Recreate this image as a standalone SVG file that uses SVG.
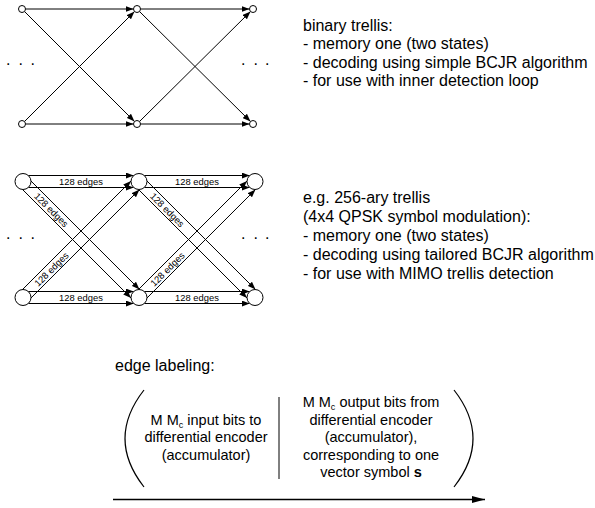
<svg xmlns="http://www.w3.org/2000/svg" width="595" height="508" viewBox="0 0 595 508">
<defs>
<marker id="ah" viewBox="0 0 8 6" refX="8" refY="3" markerWidth="8" markerHeight="6" markerUnits="userSpaceOnUse" orient="auto"><path d="M0,0 L8,3 L0,6 z" fill="#000"/></marker>
<marker id="ahb" viewBox="0 0 13 7" refX="13" refY="3.5" markerWidth="13" markerHeight="7" markerUnits="userSpaceOnUse" orient="auto"><path d="M0,0 L13,3.5 L0,7 z" fill="#000"/></marker>
<style>
text{font-family:"Liberation Sans",Arial,sans-serif;fill:#000}
.n{fill:#fff;stroke:#000;stroke-width:1}
.e{stroke:#000;stroke-width:1;fill:none;marker-end:url(#ah)}
.lab{font-size:9.4px;text-anchor:middle}
.t{font-size:16px}
.d{font-size:16px}
.c{font-size:14.5px;text-anchor:middle}
.sub{font-size:9px}
</style>
</defs>
<rect width="595" height="508" fill="#fff"/>

<!-- binary trellis connectors -->
<g id="connectors-binary">
<line class="e" x1="25.5" y1="9" x2="133.5" y2="9"/>
<line class="e" x1="24.5" y1="11.5" x2="134.5" y2="121.5"/>
<line class="e" x1="24.5" y1="121.5" x2="134.5" y2="11.5"/>
<line class="e" x1="25.5" y1="124" x2="133.5" y2="124"/>
<line class="e" x1="140.5" y1="9" x2="249.5" y2="9"/>
<line class="e" x1="139.5" y1="11.5" x2="250.5" y2="121.5"/>
<line class="e" x1="139.5" y1="121.5" x2="250.5" y2="11.5"/>
<line class="e" x1="140.5" y1="124" x2="249.5" y2="124"/>
</g>
<g id="b-a1"><circle class="n" cx="22" cy="9" r="3.5"/></g>
<g id="b-b1"><circle class="n" cx="137" cy="9" r="3.5"/></g>
<g id="b-c1"><circle class="n" cx="253" cy="9" r="3.5"/></g>
<g id="b-a2"><circle class="n" cx="22" cy="124" r="3.5"/></g>
<g id="b-b2"><circle class="n" cx="137" cy="124" r="3.5"/></g>
<g id="b-c2"><circle class="n" cx="253" cy="124" r="3.5"/></g>
<text class="d" x="6 18.5 30.5" y="64.7">...</text>
<text class="d" x="241 253.5 265" y="64.7">...</text>

<!-- 256-ary trellis connectors -->
<g id="connectors-256">
<line class="e" x1="28.3" y1="175.5" x2="133.7" y2="175.5"/>
<line class="e" x1="28.3" y1="187.5" x2="133.7" y2="187.5"/>
<line class="e" x1="144.3" y1="175.5" x2="249.7" y2="175.5"/>
<line class="e" x1="144.3" y1="187.5" x2="249.7" y2="187.5"/>
<line class="e" x1="28.3" y1="291.5" x2="133.7" y2="291.5"/>
<line class="e" x1="28.3" y1="303.5" x2="133.7" y2="303.5"/>
<line class="e" x1="144.3" y1="291.5" x2="249.7" y2="291.5"/>
<line class="e" x1="144.3" y1="303.5" x2="249.7" y2="303.5"/>
<line class="e" x1="30.98" y1="181" x2="139.5" y2="289.52"/>
<line class="e" x1="22.5" y1="189.48" x2="131.02" y2="298"/>
<line class="e" x1="146.98" y1="181" x2="255.5" y2="289.52"/>
<line class="e" x1="138.5" y1="189.48" x2="247.02" y2="298"/>
<line class="e" x1="30.98" y1="298" x2="139.5" y2="189.48"/>
<line class="e" x1="22.5" y1="289.52" x2="131.02" y2="181"/>
<line class="e" x1="146.98" y1="298" x2="255.5" y2="189.48"/>
<line class="e" x1="138.5" y1="289.52" x2="247.02" y2="181"/>
<text class="lab" x="81" y="184.9">128 edges</text>
<text class="lab" x="197" y="184.9">128 edges</text>
<text class="lab" x="81" y="300.9">128 edges</text>
<text class="lab" x="197" y="300.9">128 edges</text>
<text class="lab" transform="translate(51.3 209.8) rotate(45)" y="3.4">128 edges</text>
<text class="lab" transform="translate(167.3 209.8) rotate(45)" y="3.4">128 edges</text>
<text class="lab" transform="translate(51.3 269.2) rotate(-45)" y="3.4">128 edges</text>
<text class="lab" transform="translate(167.3 269.2) rotate(-45)" y="3.4">128 edges</text>
</g>
<g id="q-p1"><circle class="n" cx="23" cy="181.5" r="8"/></g>
<g id="q-q1"><circle class="n" cx="139" cy="181.5" r="8"/></g>
<g id="q-r1"><circle class="n" cx="255" cy="181.5" r="8"/></g>
<g id="q-p2"><circle class="n" cx="23" cy="297.5" r="8"/></g>
<g id="q-q2"><circle class="n" cx="139" cy="297.5" r="8"/></g>
<g id="q-r2"><circle class="n" cx="255" cy="297.5" r="8"/></g>
<text class="d" x="6 18.5 30.5" y="239">...</text>
<text class="d" x="241 253.5 265" y="239">...</text>

<g id="desc-binary">
<text class="t" x="303" y="31">binary trellis:</text>
<text class="t" x="303" y="49.3">- memory one (two states)</text>
<text class="t" x="303" y="67.6">- decoding using simple BCJR algorithm</text>
<text class="t" x="303" y="85.9">- for use with inner detection loop</text>
</g>
<g id="desc-256">
<text class="t" x="303" y="202.5">e.g. 256-ary trellis</text>
<text class="t" x="303" y="221.7">(4x4 QPSK symbol modulation):</text>
<text class="t" x="303" y="240.9">- memory one (two states)</text>
<text class="t" x="303" y="260.1">- decoding using tailored BCJR algorithm</text>
<text class="t" x="303" y="279.3">- for use with MIMO trellis detection</text>
</g>

<g id="edge-labeling">
<text class="t" x="115" y="371">edge labeling:</text>
<path d="M144,390 Q106,438.5 144,487" fill="none" stroke="#000" stroke-width="1.2"/>
<path d="M454,390 Q492,438.5 454,487" fill="none" stroke="#000" stroke-width="1.2"/>
<line x1="279" y1="397" x2="279" y2="479" stroke="#000" stroke-width="1"/>
<text class="c" x="206" y="424.5">M M<tspan class="sub" dy="3">c</tspan><tspan dy="-3"> input bits to</tspan></text>
<text class="c" x="206" y="442">differential encoder</text>
<text class="c" x="206" y="459.5">(accumulator)</text>
<text class="c" x="371" y="407">M M<tspan class="sub" dy="3">c</tspan><tspan dy="-3"> output bits from</tspan></text>
<text class="c" x="371" y="424.5">differential encoder</text>
<text class="c" x="371" y="442">(accumulator),</text>
<text class="c" x="371" y="459.5">corresponding to one</text>
<text class="c" x="371" y="477">vector symbol <tspan font-weight="bold">s</tspan></text>
<line x1="113" y1="499.5" x2="485" y2="499.5" stroke="#000" stroke-width="1.3" marker-end="url(#ahb)"/>
</g>
</svg>
